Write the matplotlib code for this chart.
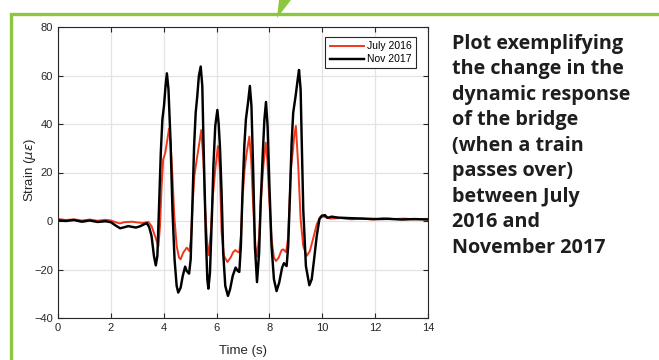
"""Strain response of the bridge, July 2016 vs Nov 2017."""

import matplotlib

matplotlib.use("Agg")
import matplotlib.pyplot as plt
from matplotlib.patches import Polygon, Rectangle

plt.rcParams["font.family"] = ["Liberation Sans", "DejaVu Sans"]
plt.rcParams["mathtext.fontset"] = "dejavusans"

# ---- data (time in s, strain in micro-strain) ----
t_jul = [0.0, 0.3, 0.6, 0.9, 1.2, 1.5, 1.8, 2.0, 2.2, 2.35, 2.5, 2.8, 3.0,
         3.2, 3.42, 3.54, 3.67, 3.8, 3.86, 3.92, 3.98, 4.06, 4.14, 4.2, 4.26,
         4.33, 4.4, 4.49, 4.58, 4.64, 4.74, 4.87, 4.97, 5.03, 5.09, 5.16, 5.25,
         5.33, 5.42, 5.5, 5.57, 5.65, 5.7, 5.78, 5.85, 5.95, 6.05, 6.12, 6.19,
         6.28, 6.41, 6.53, 6.63, 6.71, 6.78, 6.86, 6.92, 6.98, 7.06, 7.14,
         7.24, 7.31, 7.39, 7.47, 7.53, 7.61, 7.68, 7.77, 7.86, 7.92, 8.0, 8.08,
         8.17, 8.25, 8.35, 8.46, 8.52, 8.63, 8.7, 8.75, 8.81, 8.88, 8.94, 9.0,
         9.09, 9.18, 9.28, 9.41, 9.53, 9.66, 9.79, 9.91, 10.04, 10.3, 10.7,
         11.1, 11.5, 11.9, 12.3, 12.7, 13.1, 13.5, 14.0]
s_jul = [0.8, 0.4, 0.7, 0.2, 0.6, 0.1, 0.5, 0.2, -0.6, -1.0, -0.5, -0.3, -0.6,
         -0.8, -0.4, -2.1, -6.2, -10.3, -2.1, 14.4, 25.4, 28.2, 33.7, 38.1,
         32.3, 18.6, 2.1, -10.3, -15.1, -15.8, -13.0, -11.0, -12.4, -7.5, 6.2,
         18.6, 25.4, 30.9, 37.5, 25.4, 4.8, -10.3, -14.1, -4.8, 8.9, 21.3, 30.9,
         22.0, -4.8, -14.4, -16.9, -15.1, -12.8, -12.0, -12.6, -13.0, -6.2, 8.9,
         21.3, 28.2, 34.8, 25.4, 4.8, -10.3, -14.7, -6.2, 8.9, 22.7, 32.3, 25.4,
         7.6, -7.5, -15.1, -16.5, -15.1, -12.0, -11.7, -12.8, -7.5, 4.8, 21.3,
         28.2, 35.1, 39.2, 22.7, 0.7, -10.3, -14.4, -12.4, -7.0, -1.4, 1.5, 1.8,
         1.0, 1.2, 0.7, 1.0, 0.6, 1.1, 0.8, 1.0, 0.7, 0.9]

t_nov = [0.0, 0.3, 0.6, 0.9, 1.2, 1.5, 1.8, 2.0, 2.2, 2.35, 2.5, 2.66, 2.8,
         2.95, 3.1, 3.25, 3.36, 3.45, 3.54, 3.63, 3.7, 3.76, 3.82, 3.89, 3.95,
         4.01, 4.07, 4.12, 4.18, 4.26, 4.33, 4.41, 4.49, 4.55, 4.64, 4.72, 4.81,
         4.87, 4.96, 5.02, 5.08, 5.15, 5.21, 5.27, 5.33, 5.4, 5.46, 5.52, 5.59,
         5.65, 5.69, 5.75, 5.82, 5.88, 5.95, 6.03, 6.08, 6.13, 6.19, 6.25, 6.33,
         6.43, 6.51, 6.61, 6.72, 6.8, 6.86, 6.92, 6.98, 7.05, 7.11, 7.19, 7.26,
         7.32, 7.39, 7.45, 7.53, 7.61, 7.67, 7.75, 7.81, 7.87, 7.93, 8.0, 8.08,
         8.17, 8.27, 8.37, 8.48, 8.55, 8.65, 8.71, 8.78, 8.84, 8.9, 8.99, 9.07,
         9.12, 9.18, 9.22, 9.28, 9.38, 9.51, 9.6, 9.69, 9.79, 9.89, 9.98, 10.1,
         10.2, 10.35, 10.6, 11.0, 11.5, 12.0, 12.5, 13.0, 13.5, 14.0]
s_nov = [0.3, 0.0, 0.4, -0.3, 0.2, -0.4, -0.1, -0.5, -2.0, -3.0, -2.6, -2.1,
         -2.4, -2.7, -2.2, -1.4, -0.9, -2.5, -6.2, -14.4, -18.3, -14.4, 4.8,
         28.2, 41.9, 47.4, 55.7, 60.9, 54.3, 32.3, 4.8, -15.8, -26.8, -29.5,
         -27.5, -22.7, -18.8, -20.6, -21.7, -15.8, 4.8, 30.9, 44.7, 51.5, 59.8,
         63.7, 55.7, 25.4, -4.8, -24.0, -27.9, -21.3, 0.7, 22.7, 39.2, 45.8,
         40.0, 30.0, 11.7, -13.0, -26.8, -30.9, -28.2, -22.7, -19.2, -20.6,
         -21.0, -10.3, 11.7, 30.9, 41.9, 48.8, 55.7, 47.4, 18.6, -10.3, -25.2,
         -13.0, 7.6, 28.2, 41.9, 49.1, 39.2, 14.4, -10.3, -24.0, -28.9, -25.4,
         -19.2, -17.4, -18.6, -10.3, 11.7, 32.3, 44.7, 51.5, 58.4, 62.3, 54.3,
         34.0, 4.8, -18.6, -26.5, -24.0, -15.8, -6.2, 0.7, 2.2, 2.4, 1.3, 1.8,
         1.4, 1.2, 1.0, 0.8, 0.9, 0.6, 0.8, 0.6]

x_ticks = [0, 2, 4, 6, 8, 10, 12, 14]
y_ticks = [-40, -20, 0, 20, 40, 60, 80]

caption = ("Plot exemplifying\nthe change in the\ndynamic response\n"
           "of the bridge\n(when a train\npasses over)\nbetween July\n"
           "2016 and\nNovember 2017")

green = "#8dc63f"
ink = "#262626"

fig = plt.figure(figsize=(6.59, 3.6), dpi=100)

# green frame and the little arrow pointing up
fig.patches.append(Rectangle((11 / 659, -0.1), 1.0, (1 - 14 / 360) + 0.1,
                             transform=fig.transFigure, fill=False,
                             edgecolor=green, linewidth=2.4))
fig.patches.append(Polygon([(279 / 659, 1.0), (291 / 659, 1.0), (277 / 659, 1 - 18 / 360)],
                           closed=True, transform=fig.transFigure,
                           facecolor=green, edgecolor="none"))

ax = fig.add_axes([58 / 659, 42 / 360, 370 / 659, 291 / 360])
ax.plot(t_jul, s_jul, color="#f2361e", linewidth=1.4, label="July 2016")
ax.plot(t_nov, s_nov, color="black", linewidth=1.75, label="Nov 2017")

ax.set_xlim(0, 14)
ax.set_ylim(-40, 80)
ax.set_xticks(x_ticks)
ax.set_yticks(y_ticks)
ax.tick_params(direction="in", length=3.5, width=0.8, labelsize=8,
               top=True, right=True, colors=ink, labelcolor=ink)
ax.grid(True, color="#e3e3e3", linewidth=0.9)
ax.set_axisbelow(True)
for sp in ax.spines.values():
    sp.set_linewidth(0.8)
    sp.set_color(ink)

ax.set_xlabel("Time (s)", fontsize=9.5, color=ink, labelpad=9)
ax.set_ylabel(r"Strain ($\mu\epsilon$)", fontsize=9.5, color=ink)
ax.yaxis.set_label_coords(-0.055, 0.51)

leg = ax.legend(loc="upper right", fontsize=7.5, handlelength=3.3,
                handletextpad=0.3, borderpad=0.4, labelspacing=0.3,
                fancybox=False, framealpha=1, borderaxespad=0,
                bbox_to_anchor=(0.9676, 0.9656))
leg.get_frame().set_edgecolor(ink)
leg.get_frame().set_linewidth(0.8)

fig.text(452 / 659, 1 - 33.5 / 360, caption, ha="left", va="top",
         fontsize=14.2, fontweight="bold", family=["Open Sans", "DejaVu Sans"],
         color="#1e1e1e", linespacing=1.37)

fig.savefig("out.png", dpi=100)
